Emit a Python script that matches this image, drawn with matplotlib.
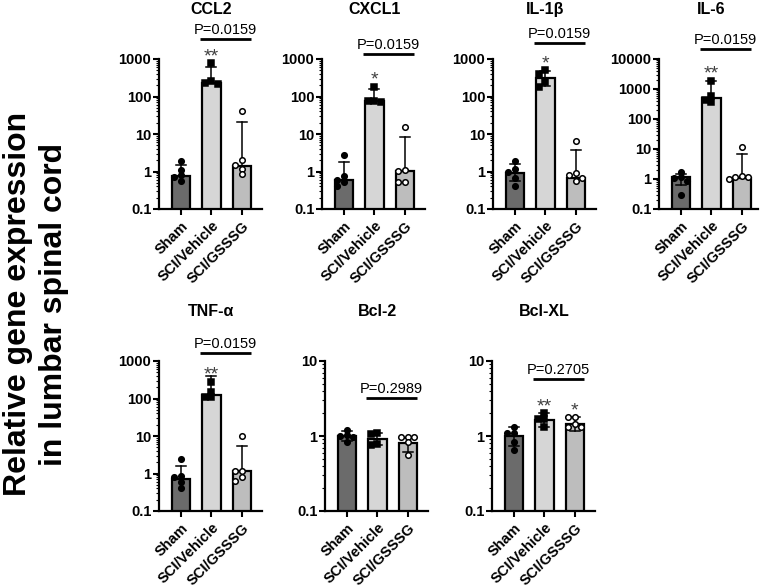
import numpy as np
import matplotlib.pyplot as plt
from matplotlib import ticker
from matplotlib.transforms import blended_transform_factory as blend

plt.rcParams['font.family'] = ['Liberation Sans', 'DejaVu Sans']
plt.rcParams['font.weight'] = 'bold'

genes = ['CCL2', 'CXCL1', 'IL-1β', 'IL-6', 'TNF-α', 'Bcl-2', 'Bcl-XL']
groups = ['Sham', 'SCI/Vehicle', 'SCI/GSSSG']

# bar height per gene: Sham, SCI/Vehicle, SCI/GSSSG
bar_means = [[0.78, 234, 1.40],
             [0.60, 74, 1.0],
             [0.89, 305, 0.69],
             [1.15, 490, 1.1],
             [0.73, 124, 1.15],
             [1.01, 0.90, 0.80],
             [1.0, 1.63, 1.43]]
# error bar ends (nan = lower end not visible)
err_hi = [[1.49, 625, 21.3],
          [1.74, 157, 8.2],
          [1.55, 480, 3.74],
          [1.5, 1800, 6.6],
          [1.6, 400, 5.4],
          [1.18, 1.09, 0.93],
          [1.33, 2.0, 1.81]]
nan = np.nan
err_lo = [[nan, nan, nan],
          [nan, nan, nan],
          [0.56, 195, nan],
          [0.65, nan, nan],
          [nan, nan, nan],
          [0.85, 0.75, 0.62],
          [0.74, 1.33, 1.15]]

# individual animals
sham_pts = [[1.9, 1.1, 0.8, 0.72, 0.56],
            [2.78, 0.74, 0.60, 0.54, 0.42],
            [1.9, 1.14, 0.95, 0.66, 0.42],
            [1.7, 1.15, 1.1, 0.85, 0.29],
            [2.4, 0.85, 0.8, 0.6, 0.4],
            [1.2, 1.02, 1.0, 0.98, 0.82],
            [1.33, 1.11, 1.1, 0.84, 0.65]]
veh_pts = [[770, 260, 225, 215],
           [177, 78, 74, 72],
           [510, 390, 240, 183],
           [1900, 600, 420, 380],
           [280, 152, 107, 107],
           [1.1, 1.05, 0.78, 0.76],
           [2.0, 1.7, 1.7, 1.33]]
gsssg_pts = [[42, 2.0, 1.5, 1.17, 0.84],
             [15.8, 1.08, 1.06, 0.54, 0.51],
             [6.6, 0.89, 0.81, 0.69, 0.56],
             [12, 1.25, 1.2, 1.15, 1.0],
             [9.8, 1.2, 1.15, 0.8, 0.65],
             [0.98, 0.97, 0.96, 0.84, 0.55],
             [1.8, 1.78, 1.45, 1.3, 1.3]]

p_values = ['P=0.0159'] * 5 + ['P=0.2989', 'P=0.2705']
stars = [['', '**', ''], ['', '*', ''], ['', '*', ''], ['', '**', ''],
         ['', '**', ''], ['', '', ''], ['', '**', '*']]
y_top = [1000, 1000, 1000, 10000, 1000, 10, 10]

# layout (pixels)
W, H = 762, 588
AX_H = 150
PX_UNIT = 30.5
panel_left = [159, 322, 493, 659, 159, 325, 492]
panel_top = [59, 59, 59, 59, 361, 361, 361]
panel_w = [103, 103, 103, 99, 103, 103, 103]
bracket_px = [20, 5, 16, 10, 8, -37, -18]      # above axes top
star_px = [[0, 8, 0], [0, -15, 0], [0, 1, 0], [0, -9, 0],
           [0, -8, 0], [0, 0, 0], [0, -40, -44]]

bar_colors = ['#6b6b6b', '#d6d6d6', '#bdbdbd']
markers = [dict(marker='o', mfc='k', mec='k'),
           dict(marker='s', mfc='k', mec='k'),
           dict(marker='o', mfc='white', mec='k')]


def swarm(vals, px_dec, step=6.5, mind=5.0):
    placed, offs = [], []
    for v in vals:
        y = np.log10(v) * px_dec
        for k in [0, -1, 1, -2, 2]:
            x = k * step
            if all(np.hypot(x - px, y - py) >= mind for px, py in placed):
                break
        placed.append((x, y))
        offs.append(x / PX_UNIT)
    return np.array(offs)


fig = plt.figure(figsize=(W / 100, H / 100), dpi=100)

for g in range(len(genes)):
    l, t, w = panel_left[g], panel_top[g], panel_w[g]
    ax = fig.add_axes([l / W, 1 - (t + AX_H) / H, w / W, AX_H / H])
    ax.set_yscale('log')
    ax.set_ylim(0.1, y_top[g])
    ax.set_xlim(-0.72, -0.72 + w / PX_UNIT)
    px_dec = AX_H / np.log10(y_top[g] / 0.1)

    x = np.arange(3)
    ax.bar(x, bar_means[g], width=0.62, bottom=1e-4, color=bar_colors,
           edgecolor='k', linewidth=1.6, zorder=2)

    cap = 5 / PX_UNIT
    for i in range(3):
        m, hi, lo = bar_means[g][i], err_hi[g][i], err_lo[g][i]
        low = m if np.isnan(lo) else lo
        ax.plot([i, i], [low, hi], color='k', lw=1.1, zorder=3)
        ax.plot([i - cap, i + cap], [hi, hi], color='k', lw=1.1, zorder=3)
        if not np.isnan(lo):
            ax.plot([i - cap, i + cap], [lo, lo], color='k', lw=1.1, zorder=3)

    for i, pts in enumerate([sham_pts[g], veh_pts[g], gsssg_pts[g]]):
        offs = swarm(pts, px_dec)
        ax.plot(i + offs, pts, ls='none', ms=4, mew=1.1, zorder=4,
                clip_on=False, **markers[i])

    tr = blend(ax.transData, ax.transAxes)
    # title centred over the vehicle bar
    ax.text(1, 1 + 45 / AX_H, genes[g], transform=tr, ha='center',
            va='baseline', fontsize=11.5)
    # comparison bracket
    yb = 1 + bracket_px[g] / AX_H
    ax.plot([0.62, 2.3], [yb, yb], transform=tr, color='k', lw=2,
            clip_on=False, solid_capstyle='butt')
    ax.text(1.46, yb + 5 / AX_H, p_values[g], transform=tr, ha='center',
            va='baseline', fontsize=10.5, fontweight='normal')
    for i in range(3):
        if stars[g][i]:
            yc = 1 + star_px[g][i] / AX_H
            ax.text(i, yc - 10 / AX_H, stars[g][i], transform=tr,
                    ha='center', va='baseline', fontsize=14,
                    fontweight='normal', color='#404040')

    for s in ['top', 'right']:
        ax.spines[s].set_visible(False)
    for s in ['left', 'bottom']:
        ax.spines[s].set_linewidth(1.6)
    ax.yaxis.set_major_locator(ticker.LogLocator(base=10, numticks=12))
    ax.yaxis.set_minor_locator(ticker.LogLocator(base=10, subs=np.arange(2, 10),
                                                 numticks=12))
    ax.yaxis.set_major_formatter(ticker.FuncFormatter(lambda v, p: f'{v:g}'))
    ax.yaxis.set_minor_formatter(ticker.NullFormatter())
    ax.tick_params(axis='y', which='major', length=4, width=1.5,
                   labelsize=10.5, pad=1.5)
    ax.tick_params(axis='y', which='minor', length=2.5, width=0.8)
    ax.tick_params(axis='x', length=4, width=1.5, pad=3)
    ax.set_xticks(x)
    ax.set_xticklabels(groups, rotation=45, ha='right', va='top',
                       rotation_mode='anchor', fontsize=10.5)

fig.text(36 / W, 1 - 304 / H, 'Relative gene expression\nin lumbar spinal cord',
         rotation=90, ha='center', va='center', multialignment='center',
         fontsize=23, linespacing=1.25)

fig.savefig('out.png', dpi=100)
